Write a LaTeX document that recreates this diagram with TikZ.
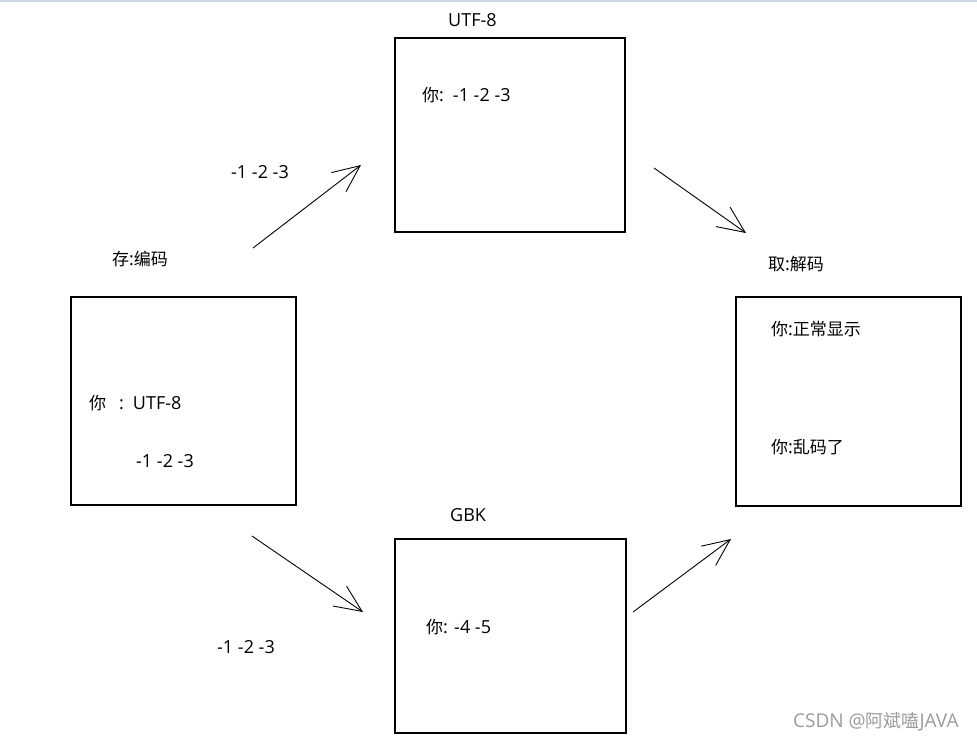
\documentclass[tikz,border=0pt]{standalone}
\usepackage{fontspec}
\setmainfont{Open Sans}
\newfontfamily\cjk{Noto Sans CJK SC}[Scale=0.944]
\usetikzlibrary{arrows.meta}
\definecolor{framegray}{RGB}{205,215,230}
\definecolor{markgray}{RGB}{155,155,155}
\tikzset{
  codebox/.style={draw, line width=1.3pt, inner sep=0pt},
  txt/.style={anchor=west, inner sep=0pt, font=\fontsize{18}{21}\selectfont},
  arr/.style={-{Straight Barb[length=27pt, width=24pt]}, line width=0.9pt}
}

\begin{document}
\begin{tikzpicture}[x=1pt, y=-1pt]
  \useasboundingbox (0,0) rectangle (977,740);
  \draw[framegray, line width=1.5pt] (0,0.75) -- (977,0.75);

  % the four boxes
  \node[codebox, minimum width=225pt, minimum height=208pt] (enc) at (183.5,401) {};
  \node[codebox, minimum width=230pt, minimum height=194pt] (utf) at (510,135) {};
  \node[codebox, minimum width=231pt, minimum height=194pt] (gbk) at (510.5,636) {};
  \node[codebox, minimum width=225pt, minimum height=209pt] (dec) at (848.5,401.5) {};

  % titles
  \node[txt] (enctitle) at (112,259) {{\cjk 存}:{\cjk 编码}};
  \node[txt] (utftitle) at (448,20) {UTF-8};
  \node[txt] (gbktitle) at (450,515) {GBK};
  \node[txt] (dectitle) at (768,264) {{\cjk 取}:{\cjk 解码}};

  % box contents
  \node[txt] (encchar) at (89,403) {{\cjk 你}\hspace{13pt}:\hspace{9pt}UTF-8};
  \node[txt] (encbytes) at (136,461) {-1 -2 -3};
  \node[txt] (utfbytes) at (422,95) {{\cjk 你}:\hspace{9pt}-1 -2 -3};
  \node[txt] (gbkbytes) at (426,627) {{\cjk 你}: -4 -5};
  \node[txt] (decok) at (771,329) {{\cjk 你}:{\cjk 正常显示}};
  \node[txt] (decbad) at (771,447) {{\cjk 你}:{\cjk 乱码了}};

  % arrow labels
  \node[txt] (uplbl) at (231,172) {-1 -2 -3};
  \node[txt] (downlbl) at (217,647) {-1 -2 -3};

  % arrow ends
  \coordinate (upfrom) at (253,248);
  \coordinate (upto) at (361,165);
  \coordinate (utffrom) at (654,168);
  \coordinate (utfto) at (746,233);
  \coordinate (downfrom) at (252,536);
  \coordinate (downto) at (363,612);
  \coordinate (gbkfrom) at (633,612);
  \coordinate (gbkto) at (731,539);

  \draw[arr] (upfrom) -- (upto);
  \draw[arr] (utffrom) -- (utfto);
  \draw[arr] (downfrom) -- (downto);
  \draw[arr] (gbkfrom) -- (gbkto);

  \node[txt, font=\fontsize{19}{22}\selectfont, text=markgray] (mark) at (793,722) {CSDN @{\cjk 阿斌嗑}JAVA};
\end{tikzpicture}
\end{document}
